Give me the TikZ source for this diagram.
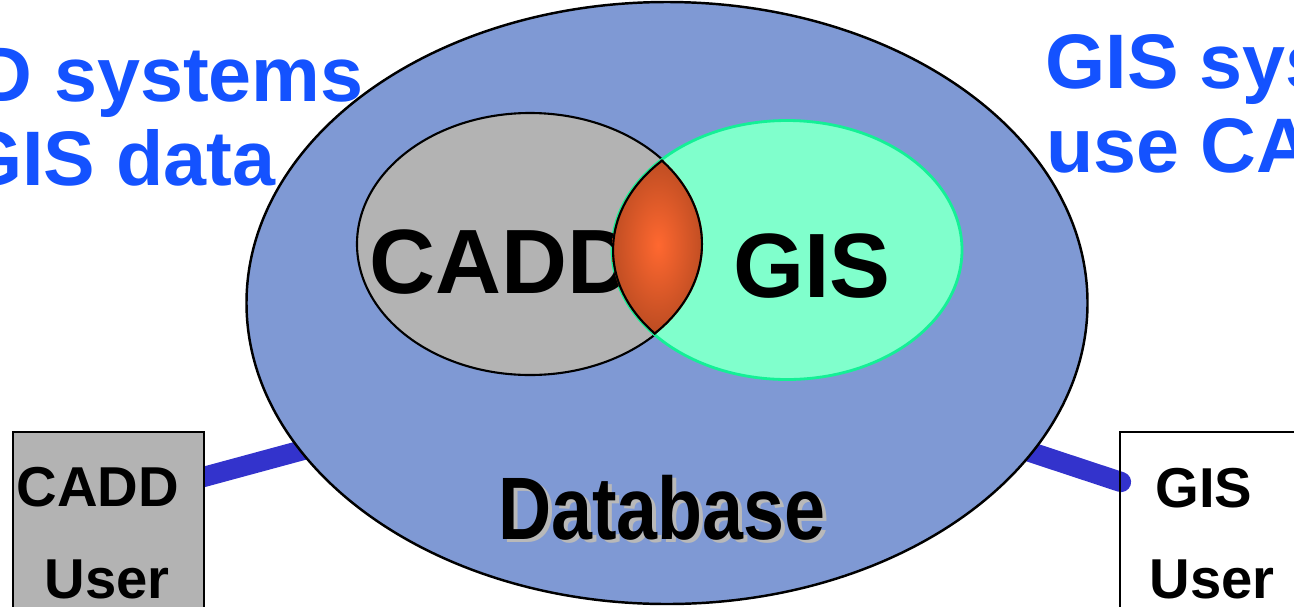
\documentclass[tikz,border=0pt]{standalone}
\usepackage{fontspec}
\setmainfont{Liberation Sans}
\newfontfamily\narrowsans[FakeStretch=0.83]{Liberation Sans}
\usetikzlibrary{backgrounds,calc,shapes.geometric}

\newlength\pxu
\setlength\pxu{0.02cm}

\definecolor{dbblue}{RGB}{127,153,212}
\definecolor{caddgray}{RGB}{179,179,179}
\definecolor{gisgreen}{RGB}{128,255,204}
\definecolor{gisedge}{RGB}{20,240,150}
\definecolor{lensorange}{RGB}{255,104,48}
\definecolor{lensdark}{RGB}{160,64,28}
\definecolor{titleblue}{RGB}{20,82,255}
\definecolor{linkblue}{RGB}{51,51,204}
\definecolor{shadowgray}{RGB}{185,185,185}

\begin{document}
\begin{tikzpicture}[
    x=0.02cm, y=-0.02cm,
    bubble/.style={
        ellipse,
        draw,
        inner sep = 0pt,
        },
    bigword/.style={
        inner sep = 0pt,
        anchor = base west,
        font = \fontsize{52}{62}\selectfont\bfseries,
        },
    title/.style={
        inner sep = 0pt,
        text = titleblue,
        font = \fontsize{44}{53}\selectfont\bfseries,
        },
    userbox/.style={
        draw,
        rectangle,
        line width = 1pt,
        minimum width = 191\pxu,
        minimum height = 240\pxu,
        anchor = north west,
        },
    userword/.style={
        inner sep = 0pt,
        anchor = base,
        font = \fontsize{32}{38}\selectfont\bfseries,
        },
    dbword/.style={
        inner sep = 0pt,
        anchor = base,
        font = \fontsize{50.5}{60}\narrowsans\bfseries,
        },
    link/.style={
        draw = linkblue,
        line width = 11.5pt,
        line cap = round,
        },
]

\useasboundingbox (0,0) rectangle (1294,606);
\clip (0,0) rectangle (1294,606);

\node[bubble, fill=dbblue, line width=1.4pt, minimum width=841\pxu, minimum height=602\pxu] (db) at (667,303) {};
\node[bubble, fill=caddgray, line width=1.2pt, minimum width=346\pxu, minimum height=262\pxu] (cadd) at (530,244) {};
\node[bubble, draw=gisedge, fill=gisgreen, line width=1.6pt, minimum width=350\pxu, minimum height=259\pxu] (gis) at (787,250) {};

\node[bigword] (caddword) at (369,293) {CADD};
\node[bigword] (gisword) at (733,297) {GIS};

% overlap of the two systems
\begin{scope}
    \clip (cadd.center) ellipse [x radius=173\pxu, y radius=131\pxu];
    \clip (gis.center) ellipse [x radius=175\pxu, y radius=129.5\pxu];
    \shade[inner color=lensorange, outer color=lensdark] (658,245) ellipse [x radius=68\pxu, y radius=125\pxu];
    \draw[line width=2.4pt] (cadd.center) ellipse [x radius=173\pxu, y radius=131\pxu];
    \draw[line width=2.4pt] (gis.center) ellipse [x radius=175\pxu, y radius=129.5\pxu];
\end{scope}

\node[dbword, text=shadowgray] (dbshadow) at (666,542) {Database};
\node[dbword] (dblabel) at (662,539) {Database};

\node[userbox, fill=caddgray] (caddbox) at (12,431) {};
\node[userbox, minimum width=250\pxu] (gisbox) at (1119,431) {};

\node[userword] (caddname) at (98,506) {CADD};
\node[userword] (caddrole) at (107,598) {User};
\node[userword] (gisname) at (1204,507) {GIS};
\node[userword] (gisrole) at (1212,598) {User};

\node[title, anchor=base east] (lefttop) at (364,101) {D systems};
\node[title, anchor=base east] (leftbottom) at (276,185) {GIS data};
\node[title, anchor=base west] (righttop) at (1045,88) {GIS sys};
\node[title, anchor=base west] (rightbottom) at (1046,172) {use CA};

\coordinate (lhub) at (340,440);
\coordinate (rhub) at (1000,442);

\begin{scope}[on background layer]
    \draw[link] ($(caddbox.north east)+(-5,47)$) -- (lhub);
    \draw[link] ($(gisbox.north west)+(2,51)$) -- (rhub);
\end{scope}

\end{tikzpicture}
\end{document}
